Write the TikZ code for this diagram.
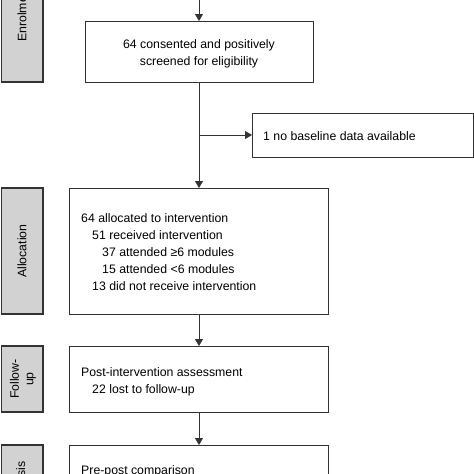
\documentclass[tikz,border=0pt]{standalone}
\usepackage{fontspec}
\setmainfont{Liberation Sans}
\usetikzlibrary{arrows.meta}
\definecolor{sidegray}{HTML}{D2D2D2}
\definecolor{edge}{HTML}{333333}
\tikzset{
  sidebox/.style={draw=edge, fill=sidegray, line width=1.2pt},
  mainbox/.style={draw=edge, fill=white, line width=1pt},
  sidetext/.style={rotate=90, font=\fontsize{12.3}{14.5}\selectfont, inner sep=0pt, align=center},
  boxtext/.style={font=\fontsize{12.3}{17}\selectfont, inner sep=0pt, align=left},
  flow/.style={draw=edge, line width=0.8pt, -{Triangle[width=8pt,length=7pt]}},
  plain/.style={draw=edge, line width=0.8pt}
}
\begin{document}
\begin{tikzpicture}[x=1pt,y=-1pt]
\useasboundingbox (0,0) rectangle (474,474);
\clip (0,0) rectangle (474,474);
% side boxes
\draw[sidebox] (1.5,-60) rectangle (43,82);
\draw[sidebox] (1.5,188) rectangle (43,314);
\draw[sidebox] (1.5,346) rectangle (43,412);
\draw[sidebox] (1.5,445) rectangle (43,560);
\node[sidetext, anchor=west] (tEnrol) at (22,42) {Enrolment};
\node[sidetext] (tAlloc) at (22,251) {Allocation};
\node[sidetext] (tFollow) at (23,379) {Follow-\\up};
\node[sidetext, anchor=east] (tAnal) at (22,461) {Analysis};
% main boxes
\draw[mainbox] (85,21) rectangle (313,82);
\draw[mainbox] (252,113) rectangle (473,157);
\draw[mainbox] (69,188) rectangle (328,314);
\draw[mainbox] (69,346) rectangle (328,412);
\draw[mainbox] (69,445) rectangle (328,560);
\coordinate (b1n) at (199,21);
\coordinate (b1s) at (199,82);
\coordinate (b2w) at (252,135);
\coordinate (b3n) at (199,188);
\coordinate (b3s) at (199,314);
\coordinate (b4n) at (199,346);
\coordinate (b4s) at (199,412);
\coordinate (b5n) at (199,445);
\coordinate (top) at (199,-5);
\coordinate (branch) at (199,135);
% texts
\node[boxtext, align=center] (t1) at (199,54) {64 consented and positively\\screened for eligibility};
\node[boxtext, anchor=west] (t2) at (263,136) {1 no baseline data available};
\node[boxtext, anchor=north west] (t3) at (81,213.5) {64 allocated to intervention\\
\hspace*{11pt}51 received intervention\\
\hspace*{21pt}37 attended ≥6 modules\\
\hspace*{21pt}15 attended <6 modules\\
\hspace*{11pt}13 did not receive intervention};
\node[boxtext, anchor=north west] (t4) at (81,367.5) {Post-intervention assessment\\
\hspace*{11pt}22 lost to follow-up};
\node[boxtext, anchor=north west] (t5) at (81,465) {Pre-post comparison};
% connectors
\draw[flow] (top) -- (b1n);
\draw[flow] (b1s) -- (b3n);
\draw[flow] (branch) -- (b2w);
\draw[flow] (b3s) -- (b4n);
\draw[flow] (b4s) -- (b5n);
\end{tikzpicture}
\end{document}
